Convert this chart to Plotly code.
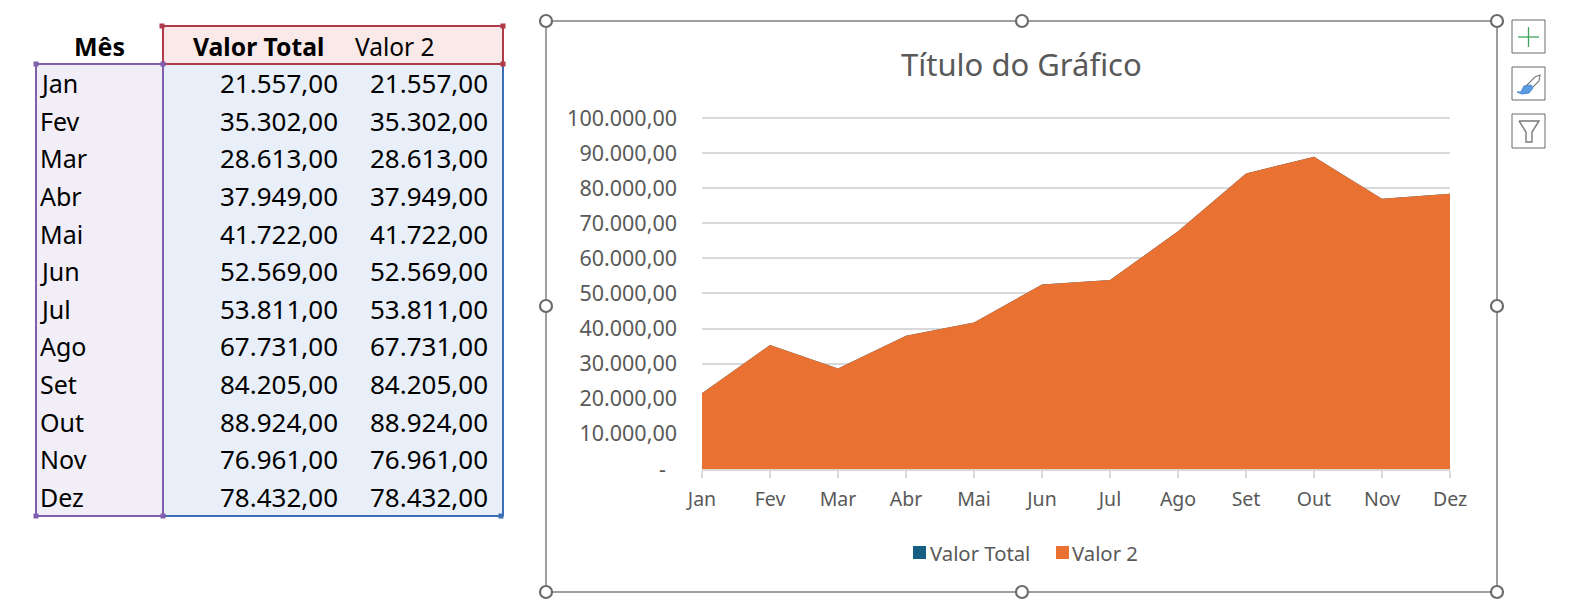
import plotly.graph_objects as go

months = ["Jan", "Fev", "Mar", "Abr", "Mai", "Jun", "Jul", "Ago", "Set", "Out", "Nov", "Dez"]
valor_total = [21557, 35302, 28613, 37949, 41722, 52569, 53811, 67731, 84205, 88924, 76961, 78432]
valor_2 = [21557, 35302, 28613, 37949, 41722, 52569, 53811, 67731, 84205, 88924, 76961, 78432]
y_ticks = [0, 10000, 20000, 30000, 40000, 50000, 60000, 70000, 80000, 90000, 100000]

W, H = 1582, 608
TXT = "#595959"
CHART_FONT = "Noto Sans"
TABLE_FONT = "Noto Sans"
BLUE, ORANGE = "#156082", "#E97132"


def px(x):
    return x / W


def py(y):
    return 1 - y / H


def fmt(v):
    return f"{v:,.2f}".replace(",", "#").replace(".", ",").replace("#", ".")


def tick_label(v):
    return "-\u00a0\u00a0" if v == 0 else fmt(v)


shapes, annotations = [], []


def rect(x0, y0, x1, y1, fill=None, line=None, lw=1, layer="above"):
    shapes.append(dict(type="rect", xref="paper", yref="paper", x0=px(x0), x1=px(x1), y0=py(y0), y1=py(y1),
                       fillcolor=fill or "rgba(0,0,0,0)", line=dict(color=line or "rgba(0,0,0,0)", width=lw if line else 0),
                       layer=layer))


def seg(x0, y0, x1, y1, color, lw):
    shapes.append(dict(type="line", xref="paper", yref="paper", x0=px(x0), x1=px(x1), y0=py(y0), y1=py(y1),
                       line=dict(color=color, width=lw)))


def poly(points, color, lw=1.5, fill=None):
    d = "M " + " L ".join(f"{px(a):.5f},{py(b):.5f}" for a, b in points)
    if fill:
        d += " Z"
    shapes.append(dict(type="path", xref="paper", yref="paper", path=d,
                       line=dict(color=color, width=lw), fillcolor=fill or "rgba(0,0,0,0)"))


def text(x, y, s, size, color="#000000", anchor="center", bold=False, font=TABLE_FONT):
    annotations.append(dict(xref="paper", yref="paper", x=px(x), y=py(y), text=f"<b>{s}</b>" if bold else s,
                            showarrow=False, xanchor=anchor, yanchor="middle", xshift=0,
                            borderpad=0, font=dict(size=size, color=color, family=font)))


# spreadsheet table
rect(37, 64, 163, 516, fill="#F1EEF7", layer="below")
rect(163, 64, 503, 516, fill="#E9EFF8", layer="below")
rect(163, 26, 503, 64, fill="#FAE9E9", layer="below")
PURPLE, RED, TBLUE = "#7F5FAE", "#B03A48", "#3D6DB5"
seg(163, 516, 503, 516, TBLUE, 2)
seg(503, 64, 503, 516, TBLUE, 2)
seg(36, 64, 163, 64, PURPLE, 2)
seg(36, 64, 36, 516, PURPLE, 2)
seg(36, 516, 163, 516, PURPLE, 2)
seg(163, 64, 163, 516, PURPLE, 2)
rect(163, 26, 503, 64, line=RED, lw=2)
for cx, cy, c in [(162, 26, RED), (503, 26, RED), (503, 64, RED), (36, 64, PURPLE), (163, 64, PURPLE),
                  (36, 516, PURPLE), (163, 516, PURPLE), (501, 516, TBLUE)]:
    rect(cx - 2.5, cy - 2.5, cx + 2.5, cy + 2.5, fill=c)

text(100, 46, "Mês", 25, bold=True)
text(258, 46, "Valor Total", 24.7, bold=True)
text(395, 46, "Valor 2", 24.5)
for i, m in enumerate(months):
    y = 83 + i * (497 - 83) / 11
    text(39, y, m, 25, anchor="left")
    text(339, y, fmt(valor_total[i]), 26, anchor="right")
    text(489, y, fmt(valor_2[i]), 26, anchor="right")

# chart frame and handles
rect(546, 21, 1497, 592, line="#7F7F7F", lw=1.5)
for hx in (546, 1022, 1497):
    for hy in (21, 306, 592):
        if hx == 1022 and hy == 306:
            continue
        shapes.append(dict(type="circle", xref="paper", yref="paper", x0=px(hx - 6), x1=px(hx + 6),
                           y0=py(hy + 6), y1=py(hy - 6), fillcolor="#FFFFFF",
                           line=dict(color="#6B6B6B", width=2.2)))

# side buttons
rect(1525, 20, 1545, 53, fill="#FFFFFF", line="#6B6B6B", lw=0) if False else None
rect(1512, 20, 1545, 53, fill="#FFFFFF", line="#6B6B6B", lw=1)
rect(1512, 67, 1545, 100, fill="#FFFFFF", line="#6B6B6B", lw=1)
rect(1512, 114, 1545, 148, fill="#FFFFFF", line="#6B6B6B", lw=1)
seg(1518, 37, 1539, 37, "#3FA45B", 1.3)
seg(1528.5, 27, 1528.5, 47, "#3FA45B", 1.3)
poly([(1540, 75), (1535, 77), (1526, 86), (1530, 90), (1539, 81), (1540, 75)], "#7F7F7F", 1.2, fill="#FFFFFF")
poly([(1531, 85), (1524, 86), (1521, 92), (1517, 92), (1522, 94), (1529, 93), (1533, 88)], "#4A86D0", 1, fill="#5B9BE0")
poly([(1519, 121), (1539, 121), (1532, 132), (1532, 142), (1526, 142), (1526, 132), (1519, 121)], "#7A7A7A", 1.4)

# chart legend and title
text(1021, 64, "Título do Gráfico", 31, color=TXT, font=CHART_FONT)
rect(913, 546, 926, 559, fill=BLUE)
text(929, 553, "Valor Total", 20.3, color=TXT, anchor="left", font=CHART_FONT)
rect(1056, 546, 1069, 559, fill=ORANGE)
text(1071, 553, "Valor 2", 20.3, color=TXT, anchor="left", font=CHART_FONT)

fig = go.Figure()
fig.add_trace(go.Scatter(x=months, y=valor_total, name="Valor Total", mode="lines", fill="tozeroy",
                         fillcolor=BLUE, line=dict(color=BLUE, width=0), showlegend=False))
fig.add_trace(go.Scatter(x=months, y=valor_2, name="Valor 2", mode="lines", fill="tozeroy",
                         fillcolor=ORANGE, line=dict(color=ORANGE, width=0), showlegend=False))

fig.update_layout(
    width=W, height=H, margin=dict(l=0, r=0, t=0, b=0, autoexpand=False), autosize=False,
    paper_bgcolor="#FFFFFF", plot_bgcolor="#FFFFFF", showlegend=False,
    shapes=shapes, annotations=annotations,
    font=dict(family=CHART_FONT, color=TXT),
    xaxis=dict(domain=[px(702), px(1450)], type="category", categoryorder="array", categoryarray=months,
               range=[0, len(months) - 1], showgrid=False, showline=True, linecolor="#E3D5CF", linewidth=1.5,
               ticks="outside", ticklen=7, tickcolor="#D9D9D9", tickwidth=1.5, tickfont=dict(size=19.5, color=TXT),
               anchor="y", zeroline=False, automargin=False, ticklabelstandoff=5),
    yaxis=dict(domain=[py(469), py(115.88)], range=[0, 100600], tickmode="array", tickvals=y_ticks,
               ticktext=[tick_label(v) for v in y_ticks], showgrid=True, gridcolor="#D9D9D9", gridwidth=1.5,
               ticks="", tickfont=dict(size=21.5, color=TXT), showline=False, zeroline=False, anchor="x",
               automargin=False, ticklabelstandoff=24),
)

fig.write_html("out.html", post_script="document.body.style.margin='0';", config={"displayModeBar": False})
